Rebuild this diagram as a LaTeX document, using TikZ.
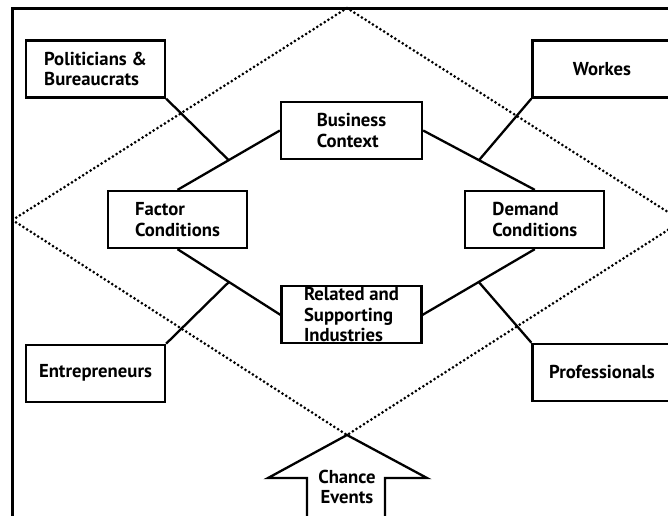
\documentclass[tikz,border=0pt]{standalone}
\usepackage{fontspec}
\setmainfont{PT Sans}
\usetikzlibrary{positioning}

\begin{document}
\begin{tikzpicture}[
  x=1pt, y=-1pt,
  font=\bfseries\fontsize{18.7}{20.5}\selectfont,
  box/.style={draw, line width=2.3pt, align=left, minimum width=139pt, minimum height=57pt, inner sep=0pt},
  link/.style={line width=2.3pt},
  dots/.style={line width=3pt, line cap=round, dash pattern=on 0pt off 4.4pt}
]
\clip (0,0) rectangle (668,515);
\draw[link] (12.5,520) -- (12.5,8.5) -- (690,8.5);
\draw[dots] (12.5,220) -- (347,8) -- (682,221) -- (347,435) -- cycle;

\node[box] (politicians) at (95.5,69) {Politicians \&\\Bureaucrats};
\node[box, below=245pt of politicians] (entrepreneurs) {Entrepreneurs};
\node[box] (workes) at (602,69) {Workes};
\node[box, below=244pt of workes] (professionals) {Professionals};

\node[box, minimum width=141pt] (business) at (351.5,130.5) {Business\\Context};
\node[box, minimum width=140pt, below=125pt of business] (related) {Related and\\Supporting\\Industries};
\node[box] (factor) at (177.5,219.5) {Factor\\Conditions};
\node[box, right=216pt of factor] (demand) {Demand\\Conditions};

\draw[link] (business.west) -- coordinate[pos=0.5] (j1) (factor.north);
\draw[link] (business.east) -- coordinate[pos=0.5] (j2) (demand.north);
\draw[link] (related.west) -- coordinate[pos=0.5] (j3) (factor.south);
\draw[link] (related.east) -- coordinate[pos=0.5] (j4) (demand.south);
\draw[link] (politicians.south east) -- (j1);
\draw[link] (workes.south west) -- (j2);
\draw[link] (entrepreneurs.north east) -- (j3);
\draw[link] (professionals.north west) -- (j4);

\draw[link, fill=white] (307,520) -- (307,478) -- (268,478) -- (347,435) -- (427,478) -- (385,478) -- (385,520);
\node[align=center] (chance) at (347,487) {Chance\\Events};
\end{tikzpicture}
\end{document}
